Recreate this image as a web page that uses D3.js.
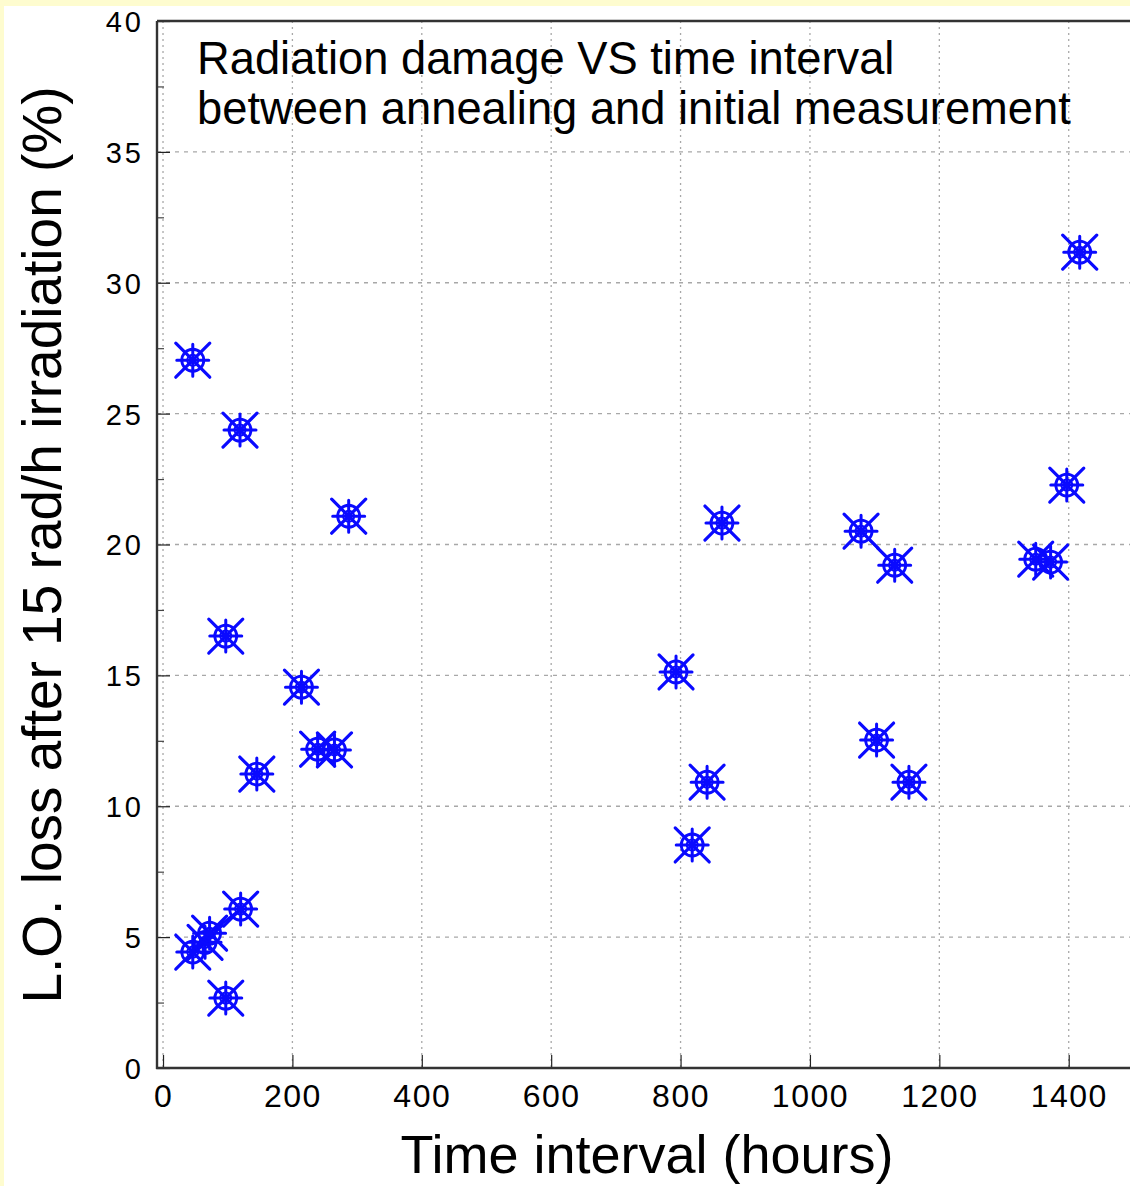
<!DOCTYPE html>
<html>
<head>
<meta charset="utf-8">
<script src="https://cdn.jsdelivr.net/npm/d3@7"></script>
<style>
  html, body { margin: 0; padding: 0; background: #fefccf; }
  svg { display: block; }
  text { font-family: "Liberation Sans", Arial, Helvetica, sans-serif; fill: #000; }
</style>
</head>
<body>
<svg id="chart" width="1130" height="1186"></svg>
<script>
// ---- data ----
const hours = [46, 119, 287, 97, 214, 145, 239, 265, 120, 46, 65, 72, 97,
               793, 864, 841, 818, 1079, 1131, 1103, 1153, 1349, 1372, 1397, 1417];
const loss  = [27.04, 24.37, 21.08, 16.5, 14.55, 11.23, 12.18, 12.15, 6.07, 4.43, 4.8, 5.15, 2.67,
               15.13, 20.82, 10.92, 8.52, 20.51, 19.21, 12.53, 10.92, 19.44, 19.33, 22.27, 31.17];
// pairs of points joined by a line segment (index into the arrays above)
const linkFrom = [11, 17];
const linkTo   = [8, 18];
const xTicks = [0, 200, 400, 600, 800, 1000, 1200, 1400];
const yTicks = [0, 5, 10, 15, 20, 25, 30, 35, 40];
const yMinorTicks = [2.5, 7.5, 12.5, 17.5, 22.5, 27.5, 32.5, 37.5];
const titleLines = ["Radiation damage VS time interval", "between annealing and initial measurement"];
const xTitle = "Time interval (hours)";
const yTitle = "L.O. loss after 15 rad/h irradiation (%)";

// ---- layout ----
const svg = d3.select("#chart");
const plotL = 157, plotT = 21, plotB = 1068, plotR = 1136;
const x = d3.scaleLinear().domain([-9.3, 1504]).range([plotL, plotR]);
const y = d3.scaleLinear().domain([0, 40]).range([plotB, plotT]);

// white canvas inside a thin yellow margin
svg.append("rect").attr("x", 4).attr("y", 6).attr("width", 1130).attr("height", 1186).attr("fill", "#ffffff");

// grid
const grid = svg.append("g");
grid.selectAll("line.vx").data(xTicks).join("line")
  .attr("x1", d => x(d)).attr("x2", d => x(d))
  .attr("y1", plotT).attr("y2", plotB)
  .attr("stroke", "#a8a8a8").attr("stroke-width", 1.3).attr("stroke-dasharray", "2,4");
grid.selectAll("line.hy").data(yTicks.filter(d => d > 0 && d < 40)).join("line")
  .attr("x1", plotL).attr("x2", plotR)
  .attr("y1", d => y(d)).attr("y2", d => y(d))
  .attr("stroke", "#a8a8a8").attr("stroke-width", 1.3).attr("stroke-dasharray", "4,5");

// axes via d3 axis generators
const xAxis = d3.axisBottom(x).tickValues(xTicks).tickSize(-13).tickPadding(0).tickFormat(d3.format("d"));
const gx = svg.append("g").attr("transform", `translate(0,${plotB})`).call(xAxis);
gx.select(".domain").remove();
gx.selectAll(".tick line").attr("stroke", "#222").attr("stroke-width", 1.2);
gx.selectAll(".tick text")
  .attr("y", 39).attr("dy", null)
  .style("font-size", "32px").style("letter-spacing", "1.5px")
  .style("font-family", "'Liberation Sans', Arial, sans-serif").attr("fill", "#111");

const yAxis = d3.axisLeft(y).tickValues(yTicks).tickSize(-13).tickPadding(0).tickFormat(d3.format("d"));
const gy = svg.append("g").attr("transform", `translate(${plotL},0)`).call(yAxis);
gy.select(".domain").remove();
gy.selectAll(".tick line").attr("stroke", "#222").attr("stroke-width", 1.2);
gy.selectAll(".tick text")
  .attr("x", -13).attr("dy", "0.36em")
  .style("font-size", "29px").style("letter-spacing", "3px")
  .style("font-family", "'Liberation Sans', Arial, sans-serif").attr("fill", "#111");

const yMinor = d3.axisLeft(y).tickValues(yMinorTicks).tickSize(-7).tickFormat("");
const gym = svg.append("g").attr("transform", `translate(${plotL},0)`).call(yMinor);
gym.select(".domain").remove();
gym.selectAll(".tick line").attr("stroke", "#444").attr("stroke-width", 1.2);

// frame
const frame = svg.append("g").attr("stroke", "#333").attr("stroke-width", 2.4).attr("fill", "none");
frame.append("line").attr("x1", plotL).attr("x2", plotL).attr("y1", plotT).attr("y2", plotB + 1);
frame.append("line").attr("x1", plotL).attr("x2", plotR).attr("y1", plotT).attr("y2", plotT);
frame.append("line").attr("x1", plotL - 1).attr("x2", plotR).attr("y1", plotB).attr("y2", plotB);

// in-plot title
svg.append("text").attr("x", 197).attr("y", 74).style("font-size", "45.3px").text(titleLines[0]);
svg.append("text").attr("x", 197).attr("y", 124).style("font-size", "45.3px").text(titleLines[1]);

// axis titles
svg.append("text").attr("x", 647).attr("y", 1173).attr("text-anchor", "middle")
  .style("font-size", "54px").text(xTitle);
svg.append("text").attr("transform", "translate(61,545) rotate(-90)").attr("text-anchor", "middle")
  .style("font-size", "55px").text(yTitle);

// connecting segments
const blue = "#0a0aff";
svg.append("g").selectAll("line").data(linkFrom.map((f, i) => [f, linkTo[i]])).join("line")
  .attr("x1", d => x(hours[d[0]])).attr("y1", d => y(loss[d[0]]))
  .attr("x2", d => x(hours[d[1]])).attr("y2", d => y(loss[d[1]]))
  .attr("stroke", blue).attr("stroke-width", 2.6);

// markers: circle + spokes (x and +) + inner ring + dot
const pts = hours.map((h, i) => ({ h, v: loss[i] }));
const mk = svg.append("g").selectAll("g").data(pts).join("g")
  .attr("transform", d => `translate(${x(d.h)},${y(d.v)})`)
  .attr("stroke", blue).attr("fill", "none").attr("stroke-width", 3.2).attr("stroke-linecap", "round");
mk.append("path").attr("d", "M-17,-17L17,17M-17,17L17,-17");
mk.append("path").attr("d", "M-16,0L16,0M0,-16L0,16").attr("stroke-width", 3);
mk.append("circle").attr("r", 11).attr("stroke-width", 2.8);
mk.append("circle").attr("r", 5.5).attr("stroke-width", 2);
mk.append("circle").attr("r", 3.5).attr("fill", blue).attr("stroke", "none");
</script>
</body>
</html>
